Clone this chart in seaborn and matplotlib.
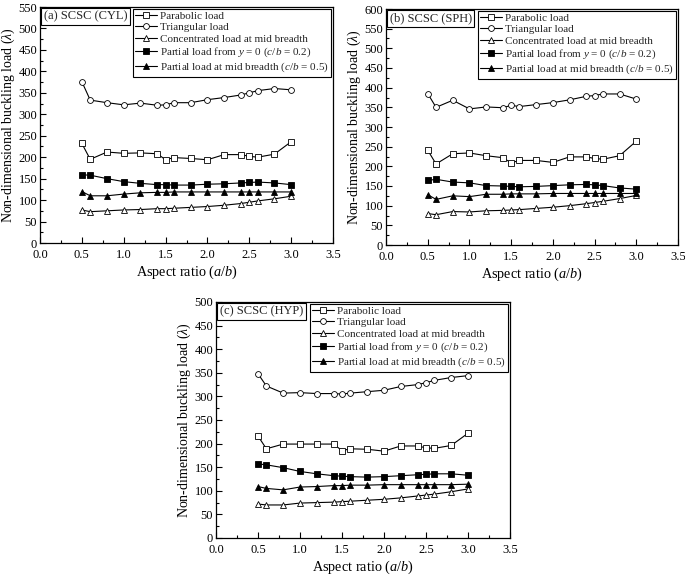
import matplotlib
matplotlib.use("Agg")
import matplotlib.pyplot as plt
import seaborn as sns
import numpy as np
from matplotlib.ticker import MultipleLocator

sns.set_theme(style="ticks")
plt.rcParams['font.family'] = ['Liberation Serif', 'DejaVu Serif']
plt.rcParams['mathtext.fontset'] = 'custom'
plt.rcParams['mathtext.rm'] = 'Liberation Serif'
plt.rcParams['mathtext.it'] = 'Liberation Serif:italic'

aspect = [0.5, 0.6, 0.8, 1.0, 1.2, 1.4, 1.5, 1.6, 1.8, 2.0, 2.2, 2.4, 2.5, 2.6, 2.8, 3.0]

labels = ["Parabolic load", "Triangular load", "Concentrated load at mid breadth",
          r"Partial load from $y$ = 0 ($c$/$b$ = 0.2)",
          r"Partial load at mid breadth ($c$/$b$ = 0.5)"]

# Panel (a) CYL
cyl_parabolic = [232, 195, 212, 209, 210, 208, 194, 199, 197, 194, 206, 206, 202, 200, 207, 236]
cyl_triangular = [376, 333, 327, 322, 326, 321, 322, 327, 327, 334, 339, 345, 350, 355, 360, 357]
cyl_concentrated = [77, 73, 75, 77, 78, 80, 80, 81, 83, 85, 88, 92, 95, 98, 103, 109]
cyl_partial_y0 = [159, 158, 150, 143, 139, 136, 136, 135, 135, 137, 138, 140, 141, 142, 140, 136]
cyl_partial_mid = [120, 110, 110, 114, 117, 118, 118, 119, 119, 119, 119, 119, 119, 119, 119, 119]

# Panel (b) SPH
sph_parabolic = [241, 206, 232, 234, 227, 222, 209, 215, 215, 210, 224, 224, 220, 218, 227, 264]
sph_triangular = [385, 350, 368, 346, 351, 349, 355, 352, 357, 362, 369, 378, 380, 384, 384, 371]
sph_concentrated = [80, 77, 85, 84, 87, 88, 89, 90, 93, 96, 100, 105, 108, 111, 118, 126]
sph_partial_y0 = [164, 167, 160, 158, 151, 150, 149, 148, 149, 151, 153, 154, 153, 151, 145, 142]
sph_partial_mid = [128, 116, 125, 123, 129, 129, 130, 130, 130, 131, 131, 131, 131, 131, 131, 131]

# Panel (c) HYP
hyp_parabolic = [216, 189, 199, 199, 199, 199, 185, 189, 188, 184, 195, 195, 191, 190, 196, 222]
hyp_triangular = [348, 322, 307, 308, 306, 306, 305, 307, 310, 313, 321, 325, 329, 334, 340, 344]
hyp_concentrated = [72, 70, 70, 74, 75, 76, 77, 78, 80, 82, 85, 89, 91, 93, 98, 104]
hyp_partial_y0 = [157, 155, 149, 141, 136, 132, 131, 130, 129, 130, 132, 134, 135, 136, 136, 133]
hyp_partial_mid = [109, 105, 102, 108, 109, 111, 111, 112, 112, 113, 113, 113, 113, 113, 113, 114]

panels = [
    ("(a) SCSC (CYL)", [cyl_parabolic, cyl_triangular, cyl_concentrated, cyl_partial_y0, cyl_partial_mid], 550),
    ("(b) SCSC (SPH)", [sph_parabolic, sph_triangular, sph_concentrated, sph_partial_y0, sph_partial_mid], 600),
    ("(c) SCSC (HYP)", [hyp_parabolic, hyp_triangular, hyp_concentrated, hyp_partial_y0, hyp_partial_mid], 500),
]

styles = [("s", "white"), ("o", "white"), ("^", "white"), ("s", "black"), ("^", "black")]

W, H = 685, 575
fig = plt.figure(figsize=(W / 100, H / 100), dpi=100)
rects = [(40, 7, 333, 243), (386, 9, 678, 245), (216, 302, 510, 538)]

for (title, series, ymax), (l, t, r, b) in zip(panels, rects):
    ax = fig.add_axes([l / W, 1 - b / H, (r - l) / W, (b - t) / H])
    for vals, lab, (mk, fc) in zip(series, labels, styles):
        sns.lineplot(x=aspect, y=vals, ax=ax, color="black", lw=0.8, marker=mk,
                     markersize=4.2, markerfacecolor=fc, markeredgecolor="black",
                     markeredgewidth=0.6, label=lab)
    ax.set_xlim(0, 3.5)
    ax.set_ylim(0, ymax)
    ax.xaxis.set_major_locator(MultipleLocator(0.5))
    ax.xaxis.set_minor_locator(MultipleLocator(0.25))
    ax.yaxis.set_major_locator(MultipleLocator(50))
    ax.yaxis.set_minor_locator(MultipleLocator(25))
    ax.xaxis.set_major_formatter(matplotlib.ticker.FormatStrFormatter('%.1f'))
    ax.tick_params(which="both", direction="in", top=False, right=False, labelsize=9, width=0.8,
                   colors="black")
    ax.tick_params(axis="x", pad=4.5)
    ax.tick_params(axis="y", pad=2)
    ax.tick_params(which="major", length=4)
    ax.tick_params(which="minor", length=2)
    for s in ax.spines.values():
        s.set_visible(True)
        s.set_color("black")
        s.set_linewidth(0.9)
    ax.set_xlabel(r"Aspect ratio ($a$/$b$)", fontsize=10.3, color="black", labelpad=1.5)
    ax.set_ylabel(r"Non-dimensional buckling load ($\lambda$)", fontsize=10, color="black", labelpad=1)
    leg = ax.legend(loc="upper right", fontsize=8, frameon=True, fancybox=False,
                    edgecolor="black", framealpha=1, borderaxespad=0.15, handlelength=2.0,
                    handletextpad=0.25, labelspacing=0.16, borderpad=0.2)
    leg.get_frame().set_linewidth(0.8)
    ax.text(0.013, 0.985, title, transform=ax.transAxes, ha="left", va="top", fontsize=9,
            bbox=dict(boxstyle="square,pad=0.2", fc="white", ec="black", lw=0.8))

fig.savefig("out.png", dpi=100)
